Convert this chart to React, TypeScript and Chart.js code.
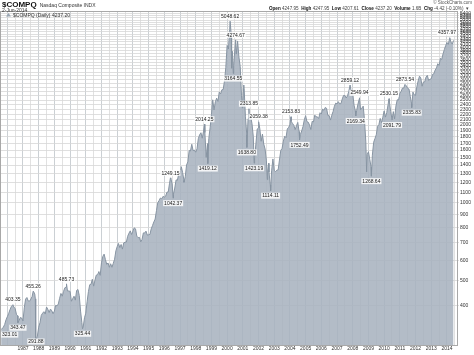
import React, { useEffect, useRef } from "react";
import { Chart, registerables } from "chart.js";

Chart.register(...registerables);

const FONT = "'Liberation Sans', Arial, Helvetica, sans-serif";

const TITLE = "$COMPQ";
const SUBTITLE = "Nasdaq Composite INDX";
const DATE_TEXT = "2-Jun-2014";
const LEGEND_TEXT = "$COMPQ (Daily) 4237.20";
const COPYRIGHT = "© StockCharts.com";
const QUOTE: [string, string][] = [
  ["Open", "4247.95"],
  ["High", "4247.95"],
  ["Low", "4207.61"],
  ["Close", "4237.20"],
  ["Volume", "1.6B"],
  ["Chg", "-4.42 (-0.10%)"],
];

const yearLabels = [
  1987, 1988, 1989, 1990, 1991, 1992, 1993, 1994, 1995, 1996, 1997, 1998, 1999, 2000,
  2001, 2002, 2003, 2004, 2005, 2006, 2007, 2008, 2009, 2010, 2011, 2012, 2013, 2014,
];

const priceTicks = [
  400, 500, 600, 700, 800, 900, 1000, 1100, 1200, 1300, 1400, 1500, 1600, 1700, 1800,
  1900, 2000, 2100, 2200, 2300, 2400, 2500, 2600, 2700, 2800, 2900, 3000, 3100, 3200,
  3300, 3400, 3500, 3600, 3700, 3800, 3900, 4000, 4100, 4200, 4300, 4400, 4500, 4600,
  4700, 4800, 4900, 5000, 5100, 5200, 5300, 5400,
];

// "YYYY-MM" = month-end close, "YYYY-MM-DD" = that day's close
const nasdaqCloses: [string, number][] = [
  ["1985-08-10", 323.01], ["1985-09", 330], ["1985-10", 338], ["1985-11", 352], ["1985-12", 362],
  ["1986-01", 372], ["1986-02", 385], ["1986-03", 396], ["1986-05-10", 403.35], ["1986-05", 395],
  ["1986-06", 390], ["1986-07", 370], ["1986-08", 365], ["1986-09-05", 343.47], ["1986-09", 350],
  ["1986-10", 360], ["1986-11", 358], ["1986-12", 349],
  ["1987-01", 392], ["1987-02", 424], ["1987-03", 430], ["1987-04", 417], ["1987-05", 416],
  ["1987-06", 424], ["1987-07", 434], ["1987-08-26", 455.26], ["1987-08", 454], ["1987-09", 444],
  ["1987-10-14", 425], ["1987-10-19", 360], ["1987-10-28", 291.88], ["1987-11", 305], ["1987-12", 330],
  ["1988-01", 344], ["1988-02", 367], ["1988-03", 374], ["1988-04", 379], ["1988-05", 371],
  ["1988-06", 395], ["1988-07", 387], ["1988-08", 376], ["1988-09", 388], ["1988-10", 382],
  ["1988-11", 372], ["1988-12", 381],
  ["1989-01", 401], ["1989-02", 399], ["1989-03", 406], ["1989-04", 427], ["1989-05", 446],
  ["1989-06", 435], ["1989-07", 454], ["1989-08", 469], ["1989-09", 472], ["1989-10-09", 485.73],
  ["1989-10", 456], ["1989-11", 456], ["1989-12", 454],
  ["1990-01", 416], ["1990-02", 426], ["1990-03", 435], ["1990-04", 420], ["1990-05", 458],
  ["1990-06", 462], ["1990-07", 438], ["1990-08", 381], ["1990-09", 344], ["1990-10-16", 325.44],
  ["1990-10", 330], ["1990-11", 359], ["1990-12", 374],
  ["1991-01", 414], ["1991-02", 453], ["1991-03", 482], ["1991-04", 484], ["1991-05", 506],
  ["1991-06", 476], ["1991-07", 502], ["1991-08", 525], ["1991-09", 527], ["1991-10", 542],
  ["1991-11", 524], ["1991-12", 586],
  ["1992-01", 620], ["1992-02", 633], ["1992-03", 603], ["1992-04", 578], ["1992-05", 585],
  ["1992-06", 563], ["1992-07", 581], ["1992-08", 563], ["1992-09", 583], ["1992-10", 605],
  ["1992-11", 652], ["1992-12", 677],
  ["1993-01", 696], ["1993-02", 671], ["1993-03", 690], ["1993-04", 662], ["1993-05", 700],
  ["1993-06", 704], ["1993-07", 705], ["1993-08", 742], ["1993-09", 763], ["1993-10", 779],
  ["1993-11", 754], ["1993-12", 777],
  ["1994-01", 800], ["1994-02", 793], ["1994-03", 743], ["1994-04", 733], ["1994-05", 735],
  ["1994-06", 706], ["1994-07", 722], ["1994-08", 765], ["1994-09", 764], ["1994-10", 777],
  ["1994-11", 750], ["1994-12", 752],
  ["1995-01", 755], ["1995-02", 793], ["1995-03", 817], ["1995-04", 843], ["1995-05", 865],
  ["1995-06", 933], ["1995-07", 1001], ["1995-08", 1020], ["1995-09", 1044], ["1995-10", 1036],
  ["1995-11", 1059], ["1995-12", 1052],
  ["1996-01", 1060], ["1996-02", 1100], ["1996-03", 1101], ["1996-04", 1191], ["1996-05-22", 1249.15],
  ["1996-05", 1243], ["1996-06", 1185], ["1996-07-24", 1042.37], ["1996-07", 1081], ["1996-08", 1141],
  ["1996-09", 1227], ["1996-10", 1222], ["1996-11", 1293], ["1996-12", 1291],
  ["1997-01", 1380], ["1997-02", 1309], ["1997-03", 1222], ["1997-04-02", 1201], ["1997-04", 1261],
  ["1997-05", 1400], ["1997-06", 1442], ["1997-07", 1594], ["1997-08", 1587], ["1997-09", 1686],
  ["1997-10", 1593], ["1997-11", 1601], ["1997-12", 1570],
  ["1998-01", 1619], ["1998-02", 1771], ["1998-03", 1835], ["1998-04", 1868], ["1998-05", 1779],
  ["1998-06", 1895], ["1998-07-20", 2014.25], ["1998-07", 1872], ["1998-08", 1499], ["1998-09", 1694],
  ["1998-10-08", 1419.12], ["1998-10", 1771], ["1998-11", 1950], ["1998-12", 2193],
  ["1999-01", 2505], ["1999-02", 2288], ["1999-03", 2461], ["1999-04", 2543], ["1999-05", 2470],
  ["1999-06", 2686], ["1999-07", 2638], ["1999-08", 2739], ["1999-09", 2746], ["1999-10", 2966],
  ["1999-11", 3336], ["1999-12", 4069],
  ["2000-01", 3940], ["2000-02", 4697], ["2000-03-10", 5048.62], ["2000-03", 4573], ["2000-04-14", 3321.29],
  ["2000-04", 3861], ["2000-05-23", 3164.55], ["2000-05", 3401], ["2000-06", 3966], ["2000-07-17", 4274.67],
  ["2000-07", 3767], ["2000-08", 4206], ["2000-09-01", 4234], ["2000-09", 3673], ["2000-10", 3370],
  ["2000-11", 2598], ["2000-12-20", 2333], ["2000-12", 2471],
  ["2001-01-24", 2859.15], ["2001-01", 2773], ["2001-02", 2152], ["2001-03", 1840], ["2001-04-04", 1638.8],
  ["2001-04", 2116], ["2001-05-22", 2313.85], ["2001-05", 2110], ["2001-06", 2161], ["2001-07", 2027],
  ["2001-08", 1805], ["2001-09-21", 1423.19], ["2001-09", 1499], ["2001-10", 1690], ["2001-11", 1931],
  ["2001-12", 1950],
  ["2002-01-04", 2059.38], ["2002-01", 1934], ["2002-02", 1731], ["2002-03", 1845], ["2002-04", 1688],
  ["2002-05", 1616], ["2002-06", 1463], ["2002-07-23", 1229], ["2002-07", 1328], ["2002-08-22", 1422],
  ["2002-08", 1315], ["2002-09", 1172], ["2002-10-09", 1114.11], ["2002-10", 1330], ["2002-11", 1479],
  ["2002-12", 1335],
  ["2003-01", 1321], ["2003-02", 1338], ["2003-03", 1341], ["2003-04", 1464], ["2003-05", 1596],
  ["2003-06", 1623], ["2003-07", 1735], ["2003-08", 1810], ["2003-09", 1787], ["2003-10", 1932],
  ["2003-11", 1960], ["2003-12", 2003],
  ["2004-01-26", 2153.83], ["2004-01", 2066], ["2004-02", 2030], ["2004-03", 1994], ["2004-04", 1920],
  ["2004-05", 1987], ["2004-06", 2048], ["2004-07", 1887], ["2004-08-12", 1752.49], ["2004-08", 1838],
  ["2004-09", 1897], ["2004-10", 1975], ["2004-11", 2097], ["2004-12", 2175],
  ["2005-01", 2062], ["2005-02", 2052], ["2005-03", 1999], ["2005-04", 1922], ["2005-05", 2068],
  ["2005-06", 2057], ["2005-07", 2185], ["2005-08", 2152], ["2005-09", 2152], ["2005-10", 2120],
  ["2005-11", 2233], ["2005-12", 2205],
  ["2006-01", 2306], ["2006-02", 2281], ["2006-03", 2340], ["2006-04", 2323], ["2006-05", 2179],
  ["2006-06", 2172], ["2006-07", 2091], ["2006-08", 2184], ["2006-09", 2258], ["2006-10", 2367],
  ["2006-11", 2432], ["2006-12", 2415],
  ["2007-01", 2464], ["2007-02", 2416], ["2007-03", 2422], ["2007-04", 2525], ["2007-05", 2605],
  ["2007-06", 2603], ["2007-07", 2546], ["2007-08", 2596], ["2007-09", 2701], ["2007-10-31", 2859.12],
  ["2007-11", 2661], ["2007-12", 2652],
  ["2008-01", 2389], ["2008-02", 2271], ["2008-03-10", 2169.34], ["2008-03", 2279], ["2008-04", 2413],
  ["2008-05", 2523], ["2008-06-05", 2549.94], ["2008-06", 2293], ["2008-07", 2326], ["2008-08", 2368],
  ["2008-09", 2092], ["2008-10", 1721], ["2008-11-20", 1316], ["2008-11", 1536], ["2008-12", 1577],
  ["2009-01", 1476], ["2009-02", 1377], ["2009-03-09", 1268.64], ["2009-03", 1529], ["2009-04", 1717],
  ["2009-05", 1774], ["2009-06", 1835], ["2009-07", 1979], ["2009-08", 2009], ["2009-09", 2122],
  ["2009-10", 2045], ["2009-11", 2145], ["2009-12", 2269],
  ["2010-01", 2147], ["2010-02", 2238], ["2010-03", 2398], ["2010-04-23", 2530.15], ["2010-04", 2461],
  ["2010-05", 2257], ["2010-06", 2109], ["2010-07-02", 2091.79], ["2010-07", 2255], ["2010-08", 2114],
  ["2010-09", 2369], ["2010-10", 2507], ["2010-11", 2498], ["2010-12", 2653],
  ["2011-01", 2700], ["2011-02", 2782], ["2011-03", 2781], ["2011-04-29", 2873.54], ["2011-05", 2835],
  ["2011-06", 2774], ["2011-07", 2756], ["2011-08", 2579], ["2011-09", 2415], ["2011-10-03", 2335.83],
  ["2011-10", 2684], ["2011-11", 2620], ["2011-12", 2605],
  ["2012-01", 2814], ["2012-02", 2967], ["2012-03", 3092], ["2012-04", 3046], ["2012-05", 2827],
  ["2012-06", 2935], ["2012-07", 2940], ["2012-08", 3067], ["2012-09", 3116], ["2012-10", 2977],
  ["2012-11", 3010], ["2012-12", 3020],
  ["2013-01", 3142], ["2013-02", 3160], ["2013-03", 3268], ["2013-04", 3329], ["2013-05", 3456],
  ["2013-06", 3403], ["2013-07", 3626], ["2013-08", 3590], ["2013-09", 3771], ["2013-10", 3920],
  ["2013-11", 4060], ["2013-12", 4177],
  ["2014-01", 4104], ["2014-02", 4308], ["2014-03-05", 4357.97], ["2014-03", 4199], ["2014-04", 4115],
  ["2014-05", 4243], ["2014-06-02", 4237.2],
];

// [date, value, text, above?]
const peakLabels: [string, number, string, boolean][] = [
  ["1985-08-10", 323.01, "323.01", false],
  ["1986-05-10", 403.35, "403.35", true],
  ["1986-09-05", 343.47, "343.47", false],
  ["1987-08-26", 455.26, "455.26", true],
  ["1987-10-28", 291.88, "291.88", false],
  ["1989-10-09", 485.73, "485.73", true],
  ["1990-10-16", 325.44, "325.44", false],
  ["1996-05-22", 1249.15, "1249.15", true],
  ["1996-07-24", 1042.37, "1042.37", false],
  ["1998-07-20", 2014.25, "2014.25", true],
  ["1998-10-08", 1419.12, "1419.12", false],
  ["2000-03-10", 5048.62, "5048.62", true],
  ["2000-05-23", 3164.55, "3164.55", false],
  ["2000-07-17", 4274.67, "4274.67", true],
  ["2001-04-04", 1638.8, "1638.80", false],
  ["2001-05-22", 2313.85, "2313.85", true],
  ["2001-09-21", 1423.19, "1423.19", false],
  ["2002-01-04", 2059.38, "2059.38", true],
  ["2002-10-09", 1114.11, "1114.11", false],
  ["2004-01-26", 2153.83, "2153.83", true],
  ["2004-08-12", 1752.49, "1752.49", false],
  ["2007-10-31", 2859.12, "2859.12", true],
  ["2008-03-10", 2169.34, "2169.34", false],
  ["2008-06-05", 2549.94, "2549.94", true],
  ["2009-03-09", 1268.64, "1268.64", false],
  ["2010-04-23", 2530.15, "2530.15", true],
  ["2010-07-02", 2091.79, "2091.79", false],
  ["2011-04-29", 2873.54, "2873.54", true],
  ["2011-10-03", 2335.83, "2335.83", false],
  ["2014-03-05", 4357.97, "4357.97", true],
];

function toYear(d: string): number {
  const p = d.split("-").map(Number);
  if (p.length === 2) return p[0] + p[1] / 12;
  return p[0] + (p[1] - 1) / 12 + (p[2] - 1) / 365;
}

const X_MIN = 1985.6;
const X_MAX = 2014.64;

const overlayPlugin = {
  id: "overlay",
  afterDraw(chart: any) {
    const ctx = chart.ctx as CanvasRenderingContext2D;
    const area = chart.chartArea;
    const xs = chart.scales.x;
    const ys = chart.scales.y;
    ctx.save();
    ctx.strokeStyle = "#a8a8a8";
    ctx.lineWidth = 1;
    ctx.strokeRect(area.left - 0.5, area.top - 0.5, area.right - area.left + 1, area.bottom - area.top + 1);

    ctx.fillStyle = "#111";
    ctx.textBaseline = "alphabetic";
    ctx.textAlign = "left";
    ctx.font = `bold 8px ${FONT}`;
    ctx.fillText(TITLE, 2, 7);
    const tw = ctx.measureText(TITLE).width;
    ctx.font = `5px ${FONT}`;
    ctx.fillStyle = "#333";
    ctx.fillText(SUBTITLE, 2 + tw + 3, 7);
    ctx.fillText(DATE_TEXT, 2, 11.5);

    ctx.fillStyle = "#9aa6b2";
    ctx.beginPath();
    ctx.moveTo(6, 16.5);
    ctx.lineTo(8.5, 13);
    ctx.lineTo(11, 16.5);
    ctx.closePath();
    ctx.fill();
    ctx.fillStyle = "#333";
    ctx.font = `5px ${FONT}`;
    ctx.fillText(LEGEND_TEXT, 13, 16.5);

    ctx.textAlign = "right";
    ctx.fillStyle = "#555";
    ctx.font = `4.5px ${FONT}`;
    ctx.fillText(COPYRIGHT, 472, 4);
    const parts: { t: string; bold: boolean }[] = [];
    QUOTE.forEach(([k, v]) => {
      parts.push({ t: k + " ", bold: true });
      parts.push({ t: v + "  ", bold: false });
    });
    parts.push({ t: "▾", bold: false });
    const qSize = 4.6;
    let total = 0;
    parts.forEach((p) => {
      ctx.font = `${p.bold ? "bold " : ""}${qSize}px ${FONT}`;
      total += ctx.measureText(p.t).width;
    });
    let x = 469 - total;
    ctx.textAlign = "left";
    parts.forEach((p) => {
      ctx.font = `${p.bold ? "bold " : ""}${qSize}px ${FONT}`;
      ctx.fillStyle = p.bold ? "#111" : "#444";
      ctx.fillText(p.t, x, 10);
      x += ctx.measureText(p.t).width;
    });

    ctx.font = `5px ${FONT}`;
    ctx.textAlign = "center";
    ctx.textBaseline = "middle";
    peakLabels.forEach(([d, v, t, above]) => {
      const px = xs.getPixelForValue(toYear(d));
      const py = ys.getPixelForValue(v);
      const w = ctx.measureText(t).width + 2;
      const cx = Math.max(area.left + w / 2, Math.min(area.right - w / 2, px));
      let cy = above ? py - 5 : py + 5;
      cy = Math.min(cy, area.bottom - 3.5);
      ctx.fillStyle = "rgba(255,255,255,0.85)";
      ctx.fillRect(cx - w / 2, cy - 3, w, 6);
      ctx.fillStyle = "#222";
      ctx.fillText(t, cx, cy + 0.3);
    });
    ctx.restore();
  },
};

export default function App() {
  const ref = useRef<HTMLCanvasElement | null>(null);
  useEffect(() => {
    if (!ref.current) return;
    const points = nasdaqCloses
      .map(([d, v]) => ({ x: toYear(d), y: v }))
      .sort((a, b) => a.x - b.x);
    const gridXs: number[] = [];
    for (let y = 1986; y <= 2014.5; y += 0.5) gridXs.push(y);
    const chart = new Chart(ref.current, {
      type: "line",
      data: {
        datasets: [
          {
            data: points,
            borderColor: "#8794a2",
            borderWidth: 1,
            backgroundColor: "rgba(168,179,191,0.88)",
            fill: "start",
            pointRadius: 0,
            tension: 0,
          },
        ],
      },
      options: {
        responsive: false,
        animation: false,
        events: [],
        layout: { padding: { left: 1, top: 12, right: 0, bottom: 0 } },
        plugins: { legend: { display: false }, tooltip: { enabled: false } },
        scales: {
          x: {
            type: "linear",
            min: X_MIN,
            max: X_MAX,
            afterBuildTicks: (s: any) => {
              s.ticks = gridXs.map((v) => ({ value: v }));
            },
            afterFit: (s: any) => {
              s.height = 10;
            },
            ticks: {
              autoSkip: false,
              maxRotation: 0,
              padding: 1,
              color: "#333",
              font: { size: 5, family: FONT },
              callback: (v: any) => (Number.isInteger(v) && yearLabels.includes(v) ? String(v) : ""),
            },
            grid: {
              drawTicks: false,
              color: (c: any) =>
                c.tick && Number.isInteger(c.tick.value) ? "rgba(140,150,160,0.45)" : "rgba(200,200,200,0.55)",
            },
            border: { display: false },
          },
          y: {
            type: "logarithmic",
            position: "right",
            min: 281.6,
            max: 5480,
            afterBuildTicks: (s: any) => {
              s.ticks = priceTicks.map((v) => ({ value: v }));
            },
            afterFit: (s: any) => {
              s.width = 17;
            },
            ticks: {
              autoSkip: false,
              padding: 1,
              color: "#333",
              font: { size: 5, family: FONT },
              callback: (v: any) => String(v),
            },
            grid: { color: "rgba(215,215,215,0.8)", tickLength: 2 },
            border: { display: false },
          },
        },
      },
      plugins: [overlayPlugin],
    });
    return () => chart.destroy();
  }, []);
  return (
    <div style={{ position: "fixed", left: 0, top: 0, width: 474, height: 355, background: "#fff" }}>
      <canvas ref={ref} width={474} height={355} style={{ width: 474, height: 355, display: "block" }} />
    </div>
  );
}
